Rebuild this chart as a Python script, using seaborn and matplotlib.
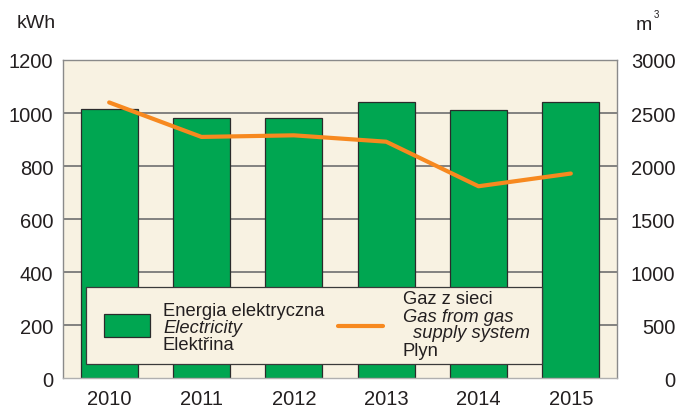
"""
Electricity and gas consumption per household, 2010-2015
"""

import matplotlib.pyplot as plt
import matplotlib.patches as mpatches
import matplotlib.lines as mlines
import seaborn as sns
import numpy as np
import pandas as pd

years = ['2010', '2011', '2012', '2013', '2014', '2015']
electricity_kwh = [1015, 980, 980, 1040, 1012, 1040]
gas_m3 = [2600, 2275, 2290, 2230, 1810, 1930]

left_ticks = [0, 200, 400, 600, 800, 1000, 1200]
right_ticks = [0, 500, 1000, 1500, 2000, 2500, 3000]

green = '#00a651'
orange = '#f7891f'
cream = '#f8f2e2'
grid_gray = '#6f6f6f'
text_col = '#231f20'

sns.set_style('white')
plt.rcParams['font.family'] = ['Liberation Sans', 'DejaVu Sans']
plt.rcParams['text.color'] = text_col

fig = plt.figure(figsize=(6.9, 4.1), dpi=100)
ax = fig.add_axes([63 / 690, 1 - 379.3 / 410, 554 / 690, 318.3 / 410])
ax.set_facecolor(cream)

df = pd.DataFrame({'year': years, 'kwh': electricity_kwh})
sns.barplot(data=df, x='year', y='kwh', ax=ax, color=green, width=0.62,
            edgecolor='#2b2b2b', linewidth=0.9, saturation=1, zorder=2)

ax.set_xlim(-0.5, 5.5)
ax.set_ylim(0, 1200)
ax.set_yticks(left_ticks)
ax.set_xlabel('')
ax.set_ylabel('')
ax.grid(False)
for v in left_ticks[1:-1]:
    ax.axhline(v, color=grid_gray, lw=1.2, zorder=1)
ax.tick_params(axis='y', length=0, pad=7, labelsize=14.5, labelcolor=text_col)
ax.tick_params(axis='x', length=0, pad=8, labelsize=14.5, labelcolor=text_col)
for side in ['left', 'right', 'top']:
    ax.spines[side].set_color('#8a8a8a')
    ax.spines[side].set_linewidth(1.0)
ax.spines['bottom'].set_color('#b0b0b0')
ax.spines['bottom'].set_linewidth(1.0)

# gas on secondary axis
ax2 = ax.twinx()
sns.lineplot(x=np.arange(len(years)), y=gas_m3, ax=ax2, color=orange,
             linewidth=3.0, solid_capstyle='round')
ax2.set_ylim(0, 3000)
ax2.set_yticks(right_ticks)
ax2.tick_params(axis='y', length=0, pad=42, labelsize=14.5, labelcolor=text_col)
for lbl in ax2.get_yticklabels():
    lbl.set_horizontalalignment('right')
for s in ax2.spines.values():
    s.set_visible(False)

# legend box
box = mpatches.Rectangle((0.0415, 0.044), 0.8225, 0.243, transform=ax2.transAxes,
                         facecolor=cream, edgecolor='#3a3a3a', lw=0.9, zorder=10)
ax2.add_patch(box)
swatch = mpatches.Rectangle((0.074, 0.129), 0.083, 0.072, transform=ax2.transAxes,
                            facecolor=green, edgecolor='#2b2b2b', lw=0.9, zorder=11)
ax2.add_patch(swatch)
ax2.add_line(mlines.Line2D([0.496, 0.578], [0.164, 0.164], transform=ax2.transAxes,
                           color=orange, lw=3.0, zorder=11))

fs = 13.2
tkw = dict(transform=ax2.transAxes, fontsize=fs, va='center', ha='left', zorder=12)
ax2.text(0.1805, 0.213, 'Energia elektryczna', **tkw)
ax2.text(0.1805, 0.160, 'Electricity', style='italic', **tkw)
ax2.text(0.1805, 0.107, 'Elektřina', **tkw)
ax2.text(0.613, 0.251, 'Gaz z sieci', **tkw)
ax2.text(0.613, 0.194, 'Gas from gas', style='italic', **tkw)
ax2.text(0.632, 0.144, 'supply system', style='italic', **tkw)
ax2.text(0.613, 0.086, 'Plyn', **tkw)

# unit labels
fig.text(36 / 690, 1 - 24 / 410, 'kWh', ha='center', va='center', fontsize=14)
fig.text(644 / 690, 1 - 25 / 410, 'm', ha='center', va='center', fontsize=14)
fig.text(656 / 690, 1 - 15 / 410, '3', ha='center', va='center', fontsize=7)

fig.savefig('out.png', dpi=100)
